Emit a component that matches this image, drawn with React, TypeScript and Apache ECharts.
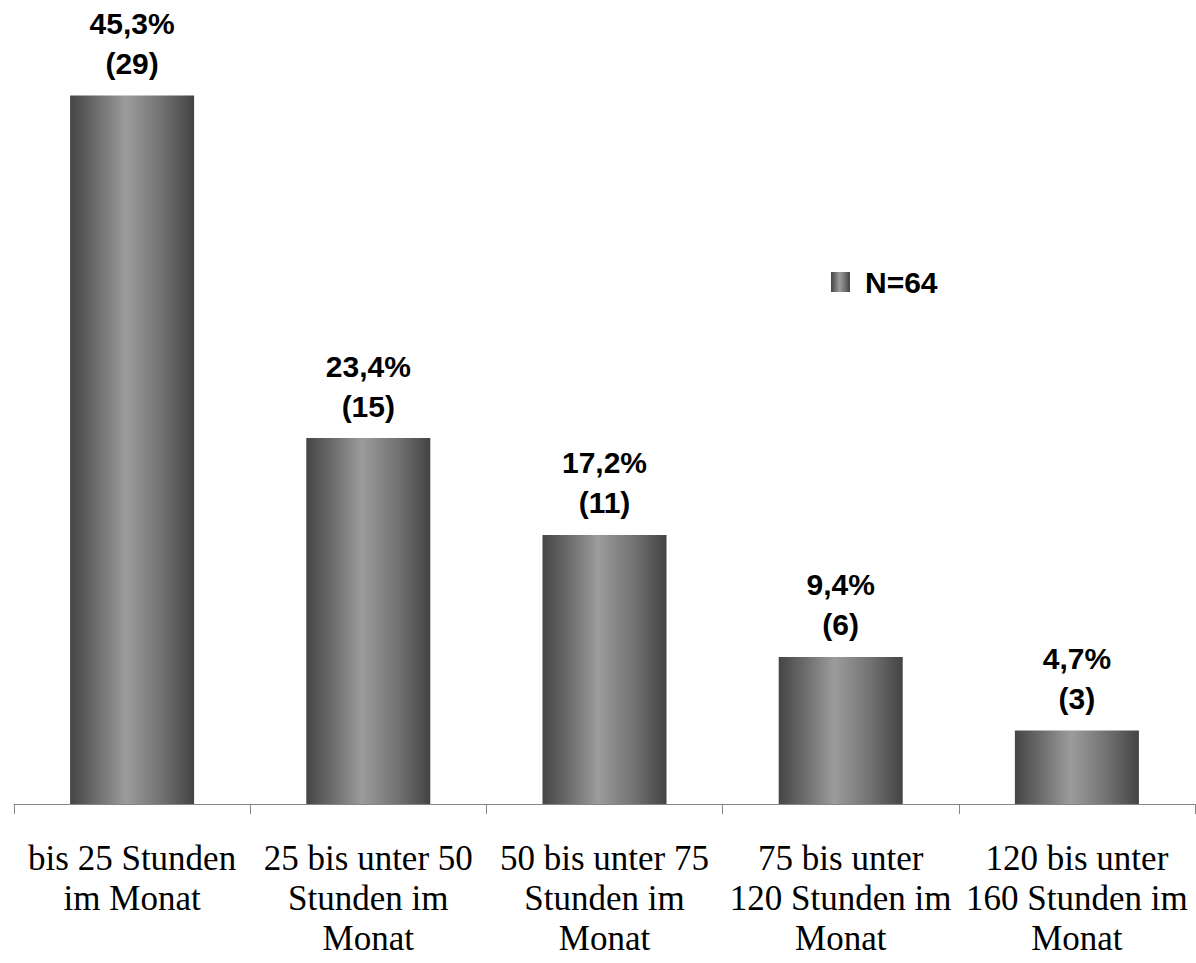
import React, { useEffect, useRef } from "react";
import * as echarts from "echarts";

const categories = [
  "bis 25 Stunden\nim Monat",
  "25 bis unter 50\nStunden im\nMonat",
  "50 bis unter 75\nStunden im\nMonat",
  "75 bis unter\n120 Stunden im\nMonat",
  "120 bis unter\n160 Stunden im\nMonat",
];
const percentValues = [45.3, 23.4, 17.2, 9.4, 4.7];
const counts = [29, 15, 11, 6, 3];
const seriesName = "N=64";

export default function App() {
  const ref = useRef<HTMLDivElement>(null);
  useEffect(() => {
    if (!ref.current) return;
    const chart = echarts.init(ref.current, null, { renderer: "svg" });
    const grad = new echarts.graphic.LinearGradient(0, 0, 1, 0, [
      { offset: 0, color: "#454545" },
      { offset: 0.2, color: "#6a6a6a" },
      { offset: 0.45, color: "#9c9c9c" },
      { offset: 0.75, color: "#707070" },
      { offset: 1, color: "#434343" },
    ]);
    chart.setOption({
      animation: false,
      backgroundColor: "#ffffff",
      textStyle: { fontFamily: "Liberation Serif" },
      grid: { left: 14, right: 1, top: 22, bottom: 159, containLabel: false },
      legend: {
        data: [seriesName],
        left: 826,
        top: 262,
        icon: "rect",
        itemWidth: 19,
        itemHeight: 20,
        textStyle: {
          fontFamily: "Liberation Sans",
          fontWeight: "bold",
          fontSize: 30,
          color: "#000",
          padding: [0, 0, 0, 10],
        },
      },
      xAxis: {
        type: "category",
        data: categories,
        axisLine: { show: true, lineStyle: { color: "#868686", width: 1 } },
        axisTick: { show: true, length: 10, lineStyle: { color: "#868686" } },
        axisLabel: {
          interval: 0,
          margin: 34,
          color: "#000",
          align: "center",
          formatter: (v: string) => `{s|${v.split("\n").join("}\n{s|")}}`,
          rich: {
            s: {
              fontFamily: "Liberation Serif",
              fontSize: 35,
              lineHeight: 40,
              color: "#000",
            },
          },
        },
      },
      yAxis: {
        type: "value",
        min: 0,
        max: 50,
        show: false,
        splitLine: { show: false },
      },
      series: [
        {
          name: seriesName,
          type: "bar",
          data: percentValues,
          barWidth: 124,
          itemStyle: { color: grad },
          label: {
            show: true,
            position: "top",
            distance: 12,
            fontFamily: "Liberation Sans",
            fontWeight: "bold",
            fontSize: 30,
            lineHeight: 40,
            color: "#000",
            formatter: (p: any) =>
              `${String(p.value).replace(".", ",")}%\n(${counts[p.dataIndex]})`,
          },
        },
      ],
    });
    return () => chart.dispose();
  }, []);
  return (
    <div
      ref={ref}
      style={{ position: "absolute", left: 0, top: 0, width: 1196, height: 963 }}
    />
  );
}
